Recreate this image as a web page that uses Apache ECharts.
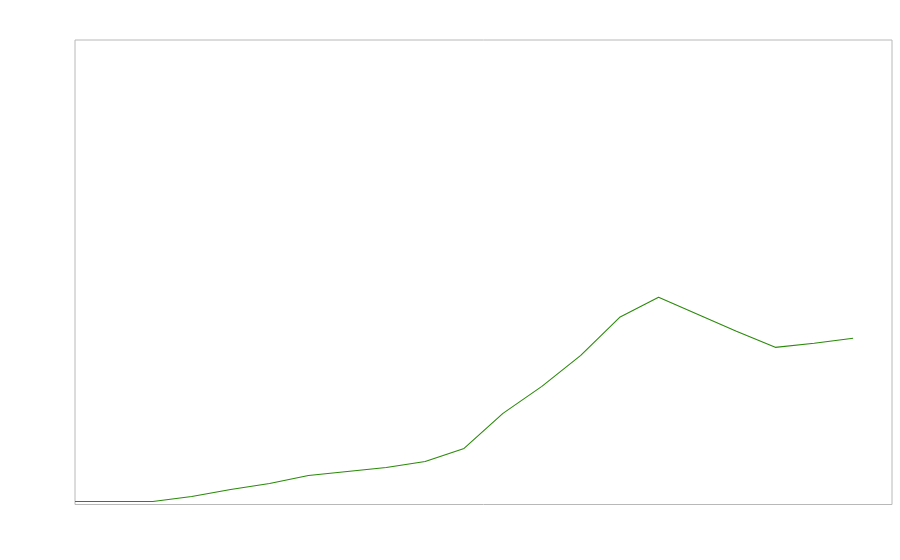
<!DOCTYPE html>
<html>
<head>
<meta charset="utf-8">
<script src="https://cdn.jsdelivr.net/npm/echarts@6/dist/echarts.min.js"></script>
<style>html,body{margin:0;padding:0;background:#fff}#c{width:900px;height:560px}</style>
</head>
<body>
<div id="c"></div>
<script>
var categories = ['0','1','2','3','4','5','6','7','8','9','10','11','12','13','14','15','16','17','18','19','20','21'];
var values = [3, 3, 3, 8, 15, 21, 29, 33, 37, 43, 56, 91, 118, 149, 187, 207, 190, 173, 157, 161, 166, null];
var yMin = 0;
var yMax = 464;

var chart = echarts.init(document.getElementById('c'));
chart.setOption({
  animation: false,
  grid: {left: 75, top: 40, right: 8, bottom: 55.5, show: true, borderColor: '#b8b8b8', borderWidth: 1, backgroundColor: 'transparent'},
  xAxis: {
    type: 'category', data: categories, boundaryGap: false,
    axisLine: {show: false}, axisTick: {show: false}, axisLabel: {show: false}, splitLine: {show: false}
  },
  yAxis: {
    type: 'value', min: yMin, max: yMax,
    axisLine: {show: false}, axisTick: {show: false}, axisLabel: {show: false}, splitLine: {show: false}
  },
  series: [{
    type: 'line', data: values, showSymbol: false, symbol: 'none',
    lineStyle: {color: '#2a8a0a', width: 1.1},
    connectNulls: false
  }]
});
</script>
</body>
</html>
